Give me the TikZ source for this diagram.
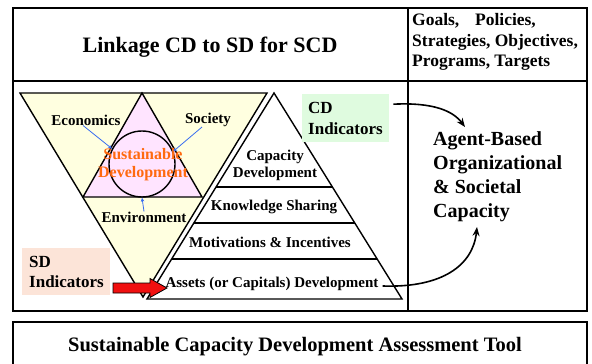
\documentclass[tikz,border=0pt]{standalone}
\usepackage{fontspec}
\setmainfont{Liberation Serif}
\usetikzlibrary{arrows.meta,calc}
\definecolor{tyellow}{HTML}{FFFFE0}
\definecolor{tpink}{HTML}{FFE4FF}
\definecolor{sdfill}{HTML}{FCE4D8}
\definecolor{cdfill}{HTML}{DFFBDF}
\definecolor{sdorange}{HTML}{FF6A10}
\definecolor{arrblue}{HTML}{3A6EF0}
\definecolor{arrred}{HTML}{F01010}
\begin{document}
\begin{tikzpicture}[x=1pt,y=-1pt,
  lbl/.style={font=\fontsize{15}{17}\selectfont\bfseries, inner sep=0pt, align=center},
  frame/.style={line width=2.5pt},
  rulel/.style={line width=1.4pt},
  shp/.style={line width=1.4pt, line join=miter},
  bluearr/.style={draw=arrblue, line width=0.8pt, -{Stealth[length=4pt,width=3.5pt]}},
  bigarr/.style={line width=1.6pt, -{Stealth[length=9pt,width=7pt]}},
]
\useasboundingbox (0,0) rectangle (592,364);
% frames
\draw[frame] (13,8) rectangle (587,311);
\draw[rulel] (13,81) -- (587,81);
\draw[rulel] (408,8) -- (408,311);
\draw[frame] (13,322) rectangle (587,380);

% header texts
\node[font=\fontsize{22}{26}\selectfont\bfseries, inner sep=0pt] (header) at (210,47) {Linkage CD to SD for SCD};
\node[font=\fontsize{17.5}{20.5}\selectfont\bfseries, inner sep=0pt, align=left, anchor=west] (goals) at (412,42)
  {Goals,\hspace{0.9em}Policies,\\Strategies, Objectives,\\Programs, Targets};
\node[font=\fontsize{20.5}{24}\selectfont\bfseries, inner sep=0pt] (tool) at (295,347) {Sustainable Capacity Development Assessment Tool};

% inverted triangle and inner triangle
\coordinate (iL) at (20,93);
\coordinate (iR) at (267,93);
\coordinate (iB) at (143,297);
\filldraw[shp, fill=tyellow] (iL) -- (iR) -- (iB) -- cycle;
\coordinate (tA) at (142,93);
\coordinate (tL) at (83,197);
\coordinate (tR) at (202,197);
\filldraw[shp, fill=tpink] (tA) -- (tL) -- (tR) -- cycle;
\node[circle, draw, line width=1.4pt, minimum size=66pt, inner sep=0pt] (circ) at (142,164) {};

% pyramid
\coordinate (pA) at (274,93);
\coordinate (pL) at (147,299);
\coordinate (pR) at (402,299);
\filldraw[shp, fill=white] (pA) -- (pL) -- (pR) -- cycle;
\foreach \t in {0.456,0.631,0.806}
  \draw[line width=1.2pt] ($(pA)!\t!(pL)$) -- ($(pA)!\t!(pR)$);

% labels in left triangles
\node[lbl] (econ) at (86,120) {Economics};
\node[lbl] (soc) at (208,120) {Society};
\node[lbl, text=sdorange, font=\fontsize{16}{18}\selectfont\bfseries] (sust) at (143,165) {Sustainable\\Development};
\node[lbl] (env) at (144,217) {Environment};
\draw[bluearr] ([xshift=-3pt]econ.south) -- (circ.153);
\draw[bluearr] ([xshift=-6pt]soc.south) -- (circ.22);
\draw[bluearr] (env.north) -- (circ.south);

% pyramid labels
\node[lbl] (cap) at (275,165) {Capacity\\Development};
\node[lbl] (know) at (274,207) {Knowledge Sharing};
\node[lbl] (motiv) at (270,242) {Motivations \& Incentives};
\node[lbl] (assets) at (272,284) {Assets (or Capitals) Development};

% indicator boxes
\node[fill=sdfill, anchor=north west, minimum width=88pt, minimum height=47pt, inner xsep=7pt, inner ysep=0pt,
  text width=74pt, align=left, font=\fontsize{17}{20}\selectfont\bfseries] (sdInd) at (22,248) {SD\\Indicators};
\node[fill=cdfill, anchor=north west, minimum width=87pt, minimum height=48pt, inner xsep=6pt, inner ysep=0pt,
  text width=75pt, align=left, font=\fontsize{17}{21}\selectfont\bfseries] (cdInd) at (302,94) {CD\\Indicators};

% red arrow
\filldraw[fill=arrred, draw=black, line width=0.8pt, line join=miter]
  (113,283) -- (150,283) -- (150,278.5) -- (167,288) -- (150,297.5) -- (150,293) -- (113,293) -- cycle;

% agent text
\node[font=\fontsize{20}{24}\selectfont\bfseries, inner sep=0pt, align=left, anchor=west] (agent) at (433,176.5)
  {Agent-Based\\Organizational\\\& Societal\\Capacity};

% big arrows
\coordinate (cdStart) at ([xshift=4pt,yshift=14pt]cdInd.east);
\coordinate (cdEnd) at (465,127);
\draw[bigarr] (cdStart) .. controls +(40,-2) and +(-12,-16) .. (cdEnd);
\coordinate (asStart) at ([xshift=4pt,yshift=-2pt]assets.east);
\coordinate (asEnd) at (477,227);
\draw[bigarr] (asStart) .. controls +(60,2) and +(-4,38) .. (asEnd);
\end{tikzpicture}
\end{document}
